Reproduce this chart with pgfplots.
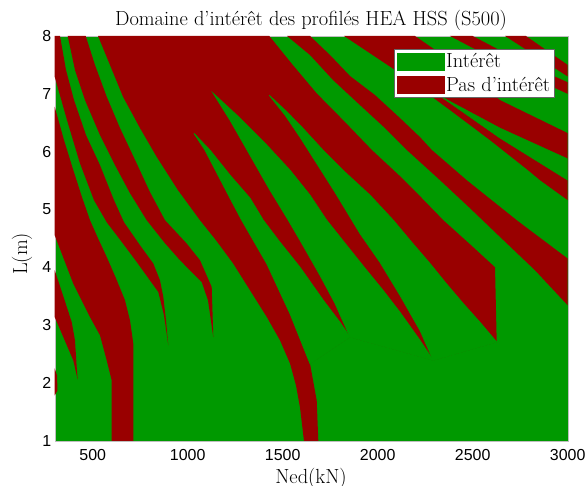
\documentclass[border=0pt]{standalone}
\usepackage{fontspec}
\usepackage{pgfplots}
\pgfplotsset{compat=1.18}
\newfontfamily\ticksans{Liberation Sans}
\definecolor{vert}{RGB}{0,153,0}
\definecolor{rouge}{RGB}{153,0,0}
\begin{document}
\begin{tikzpicture}[x=1bp,y=1bp]
\useasboundingbox (0,0) rectangle (586,486);
\node[anchor=base,font=\fontsize{20.5}{20.5}\selectfont] at (311,460) {Domaine d'intérêt des profilés HEA HSS (S500)};
\node[font=\fontsize{20.5}{20.5}\selectfont] at (311,8) {Ned(kN)};
\node[rotate=90,font=\fontsize{20.5}{20.5}\selectfont] at (22,232) {L(m)};
\begin{axis}[
  at={(54.7bp,45bp)}, anchor=south west,
  scale only axis, width=513bp, height=405bp,
  xmin=300, xmax=3000, ymin=1, ymax=8,
  xtick={500,1000,...,3000}, ytick={1,2,...,8},
  major tick length=0pt,
  axis background/.style={fill=vert},
  axis line style={draw=black!25},
  tick label style={font=\ticksans\fontsize{16}{16}\selectfont},
  xticklabel style={yshift=-5bp},
  /pgf/number format/assume math mode=true,
  /pgf/number format/1000 sep={},
  legend style={at={(0.975,0.968)}, anchor=north east, draw=black!60,
    font=\fontsize{20.5}{20.5}\selectfont, inner sep=2.5bp, row sep=4bp},
  legend cell align=left,
]
% rouge : bandes "pas d'interet"
\addplot[fill=rouge, draw=none, forget plot] coordinates {
 (300,2.255) (312.1,2.134) (314.7,1.874) (300,1.787)} -- cycle;
\addplot[fill=rouge, draw=none, forget plot] coordinates {
 (300,3.951) (343.7,3.518) (389.5,3.056) (406.8,2.739) (415.8,2.277) (421.1,2.059)
 (397.9,2.393) (345.3,2.796) (300,3.142)} -- cycle;
\addplot[fill=rouge, draw=none, forget plot] coordinates {
 (300,6.777) (348.9,6.2) (397.9,5.681) (443.7,5.214) (485.8,4.816) (527.9,4.504)
 (573.7,4.181) (622.6,3.812) (670,3.432) (696.3,3.085) (713.7,2.682) (713.7,1)
 (600,1) (600,2.047) (573.7,2.393) (538.4,2.826) (485.8,3.142) (397.7,3.72) (300,4.556)} -- cycle;
\addplot[fill=rouge, draw=none, forget plot] coordinates {
 (300,8) (327.9,8) (359.5,7.412) (401.6,6.892) (464.7,6.287) (538.4,5.768)
 (612.1,5.162) (664.7,4.781) (749,4.383) (818.9,4.067) (854.2,3.778) (871.6,3.489)
 (885.8,3.085) (897.9,2.653) (875.3,3.172) (845.3,3.575) (731.6,4.094) (654.2,4.435)
 (573.7,4.781) (506.8,5.162) (433.2,5.797) (364.7,6.546) (300,7.296)} -- cycle;
\addplot[fill=rouge, draw=none, forget plot] coordinates {
 (368.4,8) (406.8,7.412) (459.5,6.892) (538.4,6.287) (617.4,5.768) (696.3,5.283)
 (784.2,4.816) (880.5,4.418) (959.5,4.124) (1073.7,3.748) (1106.8,3.432) (1134.7,2.796)
 (1126.3,3.662) (1064.7,4.124) (994.7,4.413) (880.5,4.816) (801.6,5.3) (731.6,5.797)
 (643.7,6.408) (573.7,6.95) (512.1,7.498) (463.2,8)} -- cycle;
% grande zone rouge centrale
\addplot[fill=rouge, draw=none, forget plot] coordinates {
 (528,8) (591,7.498) (659.5,6.95) (749,6.408) (836.8,5.911) (948.9,5.335)
 (1064.7,4.816) (1148.9,4.47) (1238.4,4.072) (1327.9,3.605) (1417.4,3.137)
 (1485.8,2.739) (1538.4,2.341) (1570,1.96) (1591,1.58) (1612,1) (1687.4,1)
 (1679,1.701) (1643.7,2.336) (1854.2,2.796) (2292.6,2.393) (2626.3,2.71)
 (2617.4,4.003) (2485.8,4.4) (2345.3,4.816) (2222.6,5.231) (2117.4,5.577)
 (1970,6.027) (1827.9,6.512) (1679,7.008) (1549,7.515) (1429.5,8)} -- cycle;
% coins verts
\addplot[fill=vert, draw=vert, line width=0.8bp, forget plot] coordinates {
 (1033.2,6.316) (1091,6.027) (1159.5,5.595) (1222.6,5.197) (1284.2,4.816)
 (1415.8,4.067) (1538.4,3.201) (1643.7,2.336) (1854.2,2.796) (1801.6,3.051)
 (1713.7,3.432) (1591,4.003) (1485.8,4.435) (1397.9,4.816) (1327.9,5.197)
 (1222.6,5.595) (1117.4,6.027)} -- cycle;
\addplot[fill=vert, draw=vert, line width=0.8bp, forget plot] coordinates {
 (1134.7,7.008) (1222.6,6.546) (1327.9,5.941) (1433.2,5.335) (1529.5,4.816)
 (1591,4.47) (1696.3,3.864) (1775.3,3.379) (1854.2,2.796) (2292.6,2.393)
 (2222.6,2.739) (2117.4,3.224) (2027.9,3.605) (1933.2,3.985) (1827.9,4.418)
 (1731.6,4.816) (1643.7,5.249) (1538.4,5.681) (1406.8,6.148) (1275.3,6.581)} -- cycle;
\addplot[fill=vert, draw=vert, line width=0.8bp, forget plot] coordinates {
 (1429.5,6.974) (1512.4,6.633) (1591,6.252) (1634.7,6.027) (1775.3,5.3)
 (1906.8,4.586) (2012.1,4.089) (2117.4,3.518) (2222.6,2.912) (2292.6,2.393)
 (2626.3,2.71) (2538.4,3.051) (2450.5,3.374) (2359.5,3.726) (2275.3,4.067)
 (2170,4.47) (2082.1,4.816) (1959.5,5.249) (1827.9,5.647) (1712.1,6.027)
 (1591,6.46) (1512.4,6.719)} -- cycle;
% bandes de droite
\addplot[fill=rouge, draw=none, forget plot] coordinates {
 (1522.6,8) (1643.7,7.671) (1764.7,7.239) (1906.8,6.806) (2038.4,6.408)
 (2154.2,6.027) (2327.9,5.508) (2485.8,5.024) (2643.7,4.527) (2827.9,3.951)
 (3000,3.345) (3000,4.153) (2731.6,4.816) (2468.4,5.508) (2285.8,6.027)
 (2222.6,6.252) (2117.4,6.581) (1985.8,6.979) (1854.2,7.308) (1749,7.671)
 (1643.7,8)} -- cycle;
\addplot[fill=rouge, draw=none, forget plot] coordinates {
 (1822.6,8) (2012.1,7.585) (2117.4,7.355) (2380.5,6.719) (2591,6.2)
 (2791,5.681) (2854.2,5.508) (3000,5.162) (3000,6.321) (2643.7,6.892)
 (2380.5,7.585) (2196,8)} -- cycle;
\addplot[fill=vert, draw=vert, line width=0.5bp, forget plot] coordinates {
 (2327.9,6.962) (2643.7,6.408) (3000,5.876) (3000,5.508) (2643.7,6.235)} -- cycle;
\addplot[fill=rouge, draw=none, forget plot] coordinates {
 (2380,8) (2700,7.45) (3000,7.0) (3000,7.2) (2760,7.55) (2500,8)} -- cycle;
\addplot[fill=rouge, draw=none, forget plot] coordinates {
 (2670,8) (3000,7.3) (3000,7.5) (2780,8)} -- cycle;
\addlegendimage{legend image code/.code={\fill[vert] (0bp,-8.5bp) rectangle (47bp,8.5bp);}}
\addlegendentry{Intérêt}
\addlegendimage{legend image code/.code={\fill[rouge] (0bp,-8.5bp) rectangle (47bp,8.5bp);}}
\addlegendentry{Pas d'intérêt}
\end{axis}
\end{tikzpicture}
\end{document}
